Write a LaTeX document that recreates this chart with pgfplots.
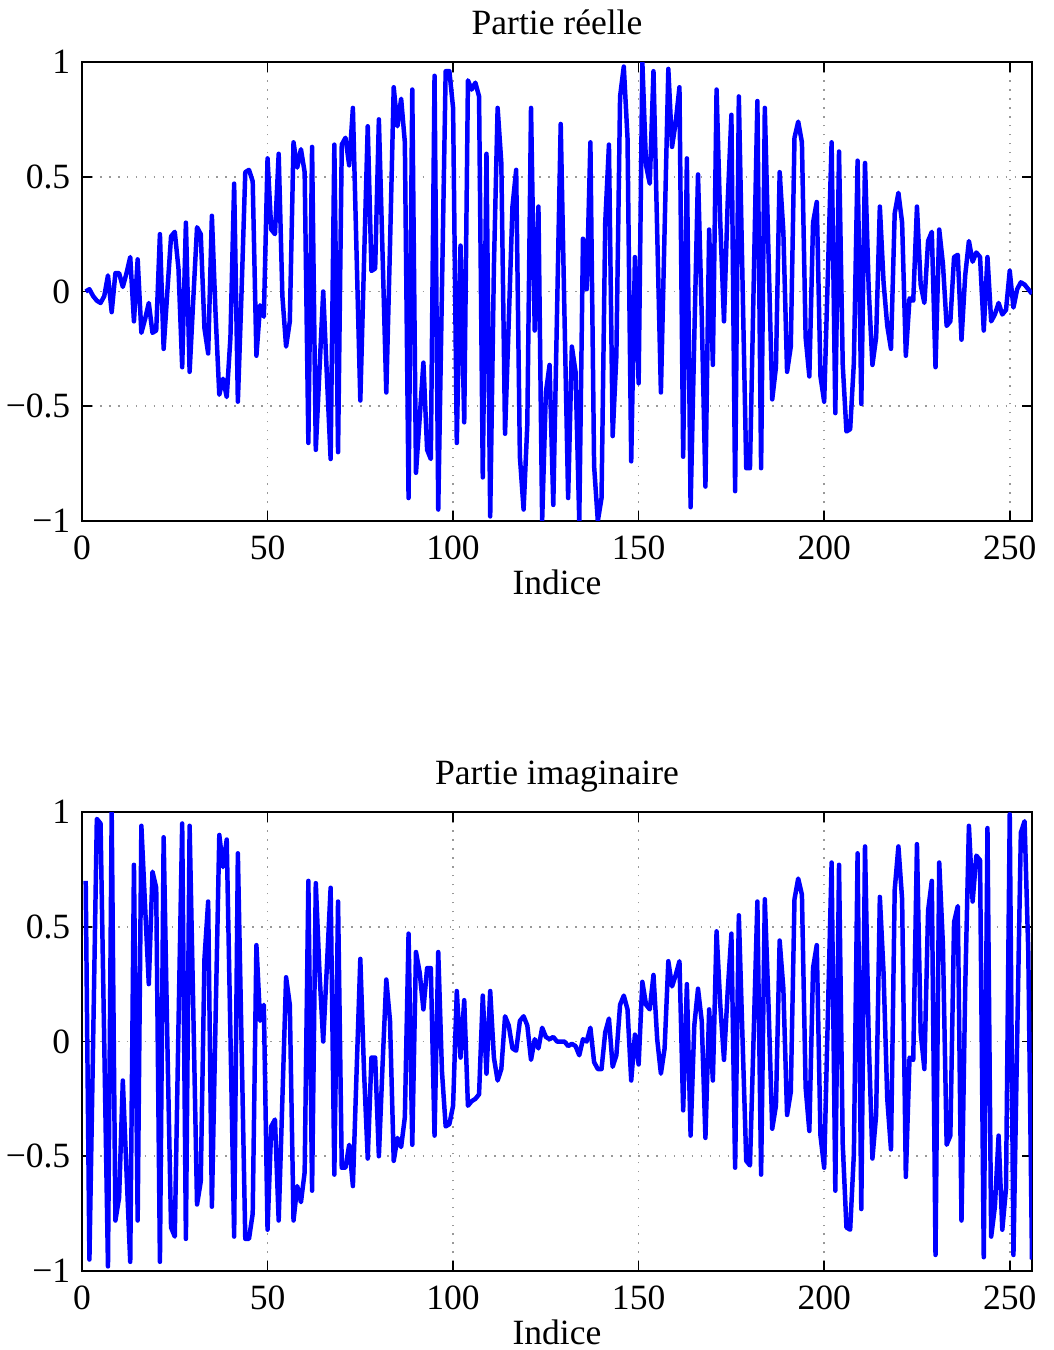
\documentclass[border=0pt]{standalone}
\usepackage{fontspec}
\setmainfont{Liberation Serif}
\usepackage{pgfplots}
\pgfplotsset{compat=1.18}
\definecolor{mblue}{RGB}{0,0,255}
\pgfplotsset{
  mystyle/.style={
    scale only axis, width=285bp, height=137.7bp,
    xmin=0, xmax=256, ymin=-1, ymax=1,
    xtick={0,50,100,150,200,250},
    ytick={-1,-0.5,0,0.5,1},
    yticklabels={−1,−0.5,0,0.5,1},
    /pgf/number format/assume math mode=true,
    tick align=inside, xtick pos=both, ytick pos=both,
    major tick length=3bp,
    grid=major, major grid style={dash pattern=on 0.5pt off 2.2pt, gray!80, line width=0.5pt},
    axis line style={black, line width=0.5pt},
    tick style={black, line width=0.5pt},
    every tick label/.append style={font=\fontsize{10.7}{12.8}\selectfont},
    xticklabel style={yshift=-1pt},
    label style={font=\fontsize{10.7}{12.8}\selectfont},
    title style={font=\fontsize{10.7}{12.8}\selectfont, at={(0.5,1)}, anchor=base, yshift=2.4bp},
    xlabel={Indice},
    xlabel style={yshift=4pt},
    no markers,
  },
  myline/.style={mblue, line width=1.35pt, line join=round, no marks},
}
\begin{document}
\begin{tikzpicture}
\begin{axis}[mystyle, at={(0,0)}, title={Partie réelle}]
\addplot[myline] coordinates {
(1,0.00)(2,0.01)(3,-0.02)(4,-0.04)(5,-0.05)(6,-0.02)(7,0.07)(8,-0.09)(9,0.08)(10,0.08)
(11,0.02)(12,0.08)(13,0.15)(14,-0.13)(15,0.14)(16,-0.18)(17,-0.12)(18,-0.05)(19,-0.18)(20,-0.17)
(21,0.25)(22,-0.25)(23,0.00)(24,0.24)(25,0.26)(26,0.10)(27,-0.33)(28,0.30)(29,-0.35)(30,-0.03)
(31,0.28)(32,0.25)(33,-0.16)(34,-0.27)(35,0.33)(36,-0.10)(37,-0.45)(38,-0.38)(39,-0.46)(40,-0.20)
(41,0.47)(42,-0.48)(43,0.00)(44,0.52)(45,0.53)(46,0.48)(47,-0.28)(48,-0.06)(49,-0.11)(50,0.58)
(51,0.27)(52,0.25)(53,0.60)(54,-0.02)(55,-0.24)(56,-0.13)(57,0.65)(58,0.54)(59,0.62)(60,0.52)
(61,-0.66)(62,0.63)(63,-0.69)(64,-0.34)(65,0.00)(66,-0.37)(67,-0.73)(68,0.64)(69,-0.70)(70,0.64)
(71,0.67)(72,0.55)(73,0.80)(74,0.16)(75,-0.475)(76,0.13)(77,0.72)(78,0.09)(79,0.10)(80,0.75)
(81,0.16)(82,-0.44)(83,0.20)(84,0.89)(85,0.72)(86,0.84)(87,0.65)(88,-0.90)(89,0.88)(90,-0.79)
(91,-0.55)(92,-0.31)(93,-0.69)(94,-0.73)(95,0.94)(96,-0.95)(97,0.01)(98,0.96)(99,0.96)(100,0.80)
(101,-0.66)(102,0.20)(103,-0.57)(104,0.92)(105,0.88)(106,0.91)(107,0.85)(108,-0.81)(109,0.60)(110,-0.98)
(111,0.11)(112,0.80)(113,0.56)(114,-0.62)(115,-0.13)(116,0.37)(117,0.53)(118,-0.72)(119,-0.95)(120,-0.58)
(121,0.80)(122,-0.17)(123,0.37)(124,-1.00)(125,-0.44)(126,-0.32)(127,-0.93)(128,-0.10)(129,0.73)(130,-0.09)
(131,-0.90)(132,-0.24)(133,-0.35)(134,-1.00)(135,0.23)(136,0.01)(137,0.65)(138,-0.76)(139,-1.00)(140,-0.90)
(141,0.30)(142,0.64)(143,-0.63)(144,-0.28)(145,0.85)(146,0.98)(147,0.67)(148,-0.74)(149,0.15)(150,-0.40)
(151,1.00)(152,0.55)(153,0.47)(154,0.96)(155,0.26)(156,-0.44)(157,0.27)(158,0.97)(159,0.63)(160,0.74)
(161,0.89)(162,-0.72)(163,0.58)(164,-0.94)(165,-0.20)(166,0.51)(167,-0.10)(168,-0.85)(169,0.27)(170,-0.32)
(171,0.88)(172,0.30)(173,-0.13)(174,0.39)(175,0.77)(176,-0.87)(177,0.85)(178,0.04)(179,-0.77)(180,-0.77)
(181,0.03)(182,0.83)(183,-0.77)(184,0.80)(185,0.16)(186,-0.47)(187,-0.33)(188,0.52)(189,0.26)(190,-0.35)
(191,-0.24)(192,0.67)(193,0.74)(194,0.65)(195,-0.20)(196,-0.37)(197,0.30)(198,0.39)(199,-0.37)(200,-0.48)
(201,0.08)(202,0.65)(203,-0.53)(204,0.61)(205,-0.32)(206,-0.61)(207,-0.60)(208,-0.31)(209,0.57)(210,-0.49)
(211,0.56)(212,0.01)(213,-0.32)(214,-0.20)(215,0.37)(216,0.04)(217,-0.15)(218,-0.25)(219,0.34)(220,0.43)
(221,0.30)(222,-0.28)(223,-0.03)(224,-0.04)(225,0.37)(226,0.03)(227,-0.05)(228,0.22)(229,0.26)(230,-0.33)
(231,0.27)(232,0.12)(233,-0.15)(234,-0.13)(235,0.15)(236,0.16)(237,-0.21)(238,0.07)(239,0.22)(240,0.13)
(241,0.17)(242,0.15)(243,-0.17)(244,0.15)(245,-0.13)(246,-0.10)(247,-0.05)(248,-0.10)(249,-0.08)(250,0.09)
(251,-0.07)(252,0.01)(253,0.04)(254,0.03)(255,0.01)(256,-0.01)
};
\end{axis}
\begin{axis}[mystyle, at={(0,-225bp)}, title={Partie imaginaire}]
\addplot[myline] coordinates {
(1,0.70)(2,-0.95)(3,0.00)(4,0.97)(5,0.95)(6,-0.01)(7,-0.98)(8,1.00)(9,-0.78)(10,-0.68)
(11,-0.17)(12,-0.57)(13,-0.96)(14,0.77)(15,-0.78)(16,0.94)(17,0.59)(18,0.25)(19,0.74)(20,0.67)
(21,-0.96)(22,0.89)(23,0.00)(24,-0.81)(25,-0.85)(26,0.07)(27,0.95)(28,-0.86)(29,0.94)(30,0.13)
(31,-0.71)(32,-0.61)(33,0.36)(34,0.61)(35,-0.72)(36,0.10)(37,0.90)(38,0.76)(39,0.88)(40,0.03)
(41,-0.85)(42,0.82)(43,-0.01)(44,-0.86)(45,-0.86)(46,-0.75)(47,0.42)(48,0.09)(49,0.16)(50,-0.82)
(51,-0.37)(52,-0.34)(53,-0.78)(54,-0.25)(55,0.28)(56,0.16)(57,-0.78)(58,-0.63)(59,-0.70)(60,-0.57)
(61,0.70)(62,-0.65)(63,0.69)(64,0.30)(65,0.00)(66,0.33)(67,0.67)(68,-0.58)(69,0.61)(70,-0.55)
(71,-0.55)(72,-0.45)(73,-0.63)(74,-0.13)(75,0.36)(76,-0.13)(77,-0.51)(78,-0.07)(79,-0.07)(80,-0.50)
(81,-0.10)(82,0.27)(83,0.09)(84,-0.52)(85,-0.42)(86,-0.46)(87,-0.33)(88,0.47)(89,-0.45)(90,0.39)
(91,0.30)(92,0.14)(93,0.32)(94,0.32)(95,-0.41)(96,0.39)(97,-0.13)(98,-0.37)(99,-0.36)(100,-0.28)
(101,0.22)(102,-0.07)(103,0.18)(104,-0.28)(105,-0.26)(106,-0.25)(107,-0.23)(108,0.20)(109,-0.14)(110,0.22)
(111,-0.07)(112,-0.17)(113,-0.12)(114,0.11)(115,0.07)(116,-0.03)(117,-0.04)(118,0.09)(119,0.11)(120,0.07)
(121,-0.08)(122,0.01)(123,-0.03)(124,0.06)(125,0.02)(126,0.01)(127,0.02)(128,0.00)(129,0.00)(130,0.00)
(131,-0.02)(132,-0.01)(133,-0.02)(134,-0.06)(135,0.01)(136,0.00)(137,0.06)(138,-0.09)(139,-0.12)(140,-0.12)
(141,0.04)(142,0.10)(143,-0.11)(144,-0.06)(145,0.16)(146,0.20)(147,0.14)(148,-0.17)(149,0.03)(150,-0.10)
(151,0.26)(152,0.16)(153,0.14)(154,0.29)(155,0.01)(156,-0.14)(157,-0.03)(158,0.35)(159,0.24)(160,0.29)
(161,0.35)(162,-0.30)(163,0.25)(164,-0.41)(165,0.07)(166,0.23)(167,0.09)(168,-0.42)(169,0.14)(170,-0.17)
(171,0.48)(172,0.16)(173,-0.08)(174,0.22)(175,0.47)(176,-0.55)(177,0.55)(178,0.01)(179,-0.52)(180,-0.54)
(181,0.03)(182,0.61)(183,-0.58)(184,0.62)(185,0.16)(186,-0.38)(187,-0.28)(188,0.44)(189,0.23)(190,-0.32)
(191,-0.22)(192,0.62)(193,0.71)(194,0.64)(195,-0.20)(196,-0.39)(197,0.32)(198,0.42)(199,-0.41)(200,-0.55)
(201,0.12)(202,0.78)(203,-0.65)(204,0.77)(205,-0.45)(206,-0.81)(207,-0.82)(208,-0.49)(209,0.82)(210,-0.73)
(211,0.85)(212,0.01)(213,-0.51)(214,-0.32)(215,0.63)(216,0.30)(217,-0.25)(218,-0.47)(219,0.66)(220,0.85)
(221,0.62)(222,-0.59)(223,-0.07)(224,-0.08)(225,0.86)(226,0.04)(227,-0.12)(228,0.57)(229,0.70)(230,-0.93)
(231,0.78)(232,0.42)(233,-0.45)(234,-0.41)(235,0.52)(236,0.59)(237,-0.78)(238,0.23)(239,0.94)(240,0.61)
(241,0.81)(242,0.79)(243,-0.94)(244,0.93)(245,-0.85)(246,-0.72)(247,-0.41)(248,-0.82)(249,-0.64)(250,0.99)
(251,-0.93)(252,0.01)(253,0.91)(254,0.96)(255,0.39)(256,-0.95)
};
\end{axis}
\pgfresetboundingbox
\path[use as bounding box] (-24.6bp,-248.7bp) rectangle (291.6bp,156.3bp);
\end{tikzpicture}
\end{document}
